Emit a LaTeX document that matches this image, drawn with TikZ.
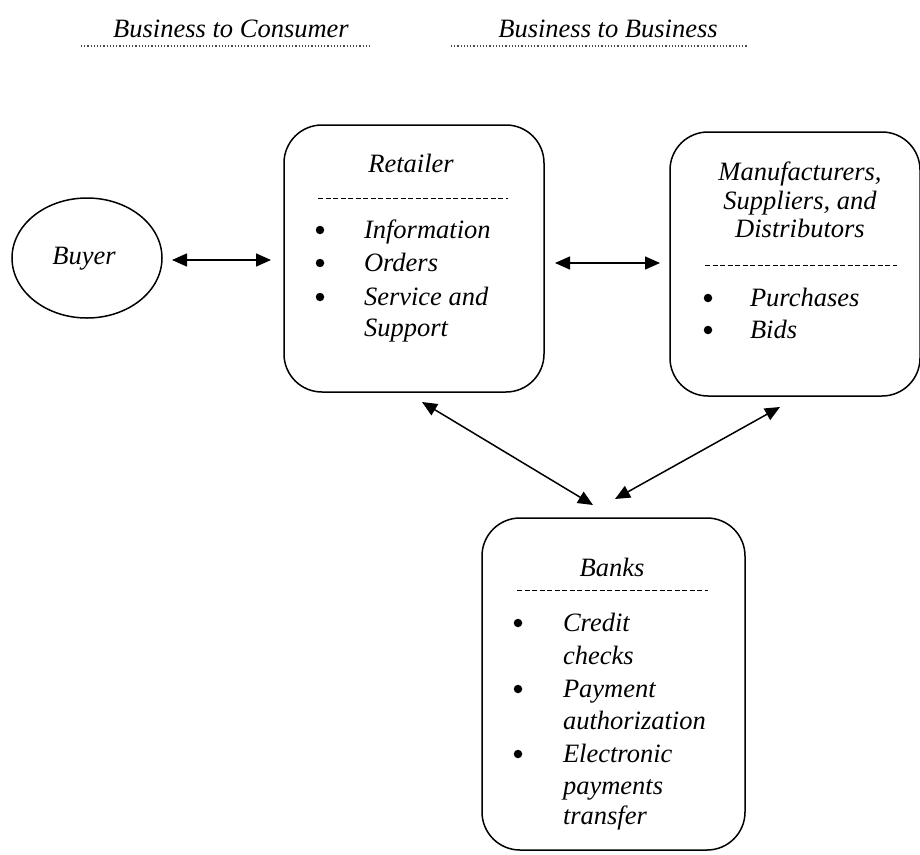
\documentclass[tikz,border=0pt]{standalone}
\usepackage{fontspec}
\setmainfont{Liberation Serif}
\usetikzlibrary{arrows.meta,shapes.geometric}
\begin{document}
\begin{tikzpicture}[x=1pt,y=-1pt,
  every node/.style={font=\fontsize{26.5}{32}\selectfont\itshape, inner sep=0pt, outer sep=0pt},
  box/.style={draw, line width=1.5pt, rounded corners=38pt, rectangle},
  sep/.style={line width=1pt, dash pattern=on 5pt off 2.5pt},
  hdr/.style={line width=1.2pt, dotted, black!70},
  conn/.style={line width=1.5pt, {Triangle[length=15pt,width=13pt]}-{Triangle[length=15pt,width=13pt]}},
  itm/.style={anchor=mid west},
  bul/.style={circle, fill=black, minimum size=8.5pt}]
\useasboundingbox (0,0) rectangle (920,854);

% headers
\node[anchor=mid] (h1) at (231,35) {Business to Consumer};
\node[anchor=mid] (h2) at (608,35) {Business to Business};
\coordinate (h1a) at (81,46); \coordinate (h1b) at (372,46);
\coordinate (h2a) at (451,46); \coordinate (h2b) at (747,46);
\draw[hdr] (h1a) -- (h1b);
\draw[hdr] (h2a) -- (h2b);

% buyer
\node[draw, ellipse, line width=1.5pt, minimum width=150pt, minimum height=120pt] (buyer) at (87,258) {};
\node[anchor=mid] (buyertxt) at (84,262) {Buyer};

% retailer
\node[box, minimum width=260pt, minimum height=267pt] (ret) at (414,258.5) {};
\node[anchor=mid] (rett) at (411,170) {Retailer};
\coordinate (rs1) at (318,198); \coordinate (rs2) at (508,198);
\draw[sep] (rs1) -- (rs2);
\foreach \yy/\t [count=\i] in {230/Information,263/Orders,297/Service and} {
  \node[bul] (rb\i) at (320,\yy) {};
  \node[itm] (ri\i) at (364,\yy+6) {\t};
}
\node[itm] (ri4) at (364,334) {Support};

% manufacturers
\node[box, minimum width=250pt, minimum height=264pt] (man) at (795,264) {};
\node[anchor=mid] (mt1) at (800,178) {Manufacturers,};
\node[anchor=mid] (mt2) at (800,207) {Suppliers, and};
\node[anchor=mid] (mt3) at (800,235) {Distributors};
\coordinate (ms1) at (705,265); \coordinate (ms2) at (897,265);
\draw[sep] (ms1) -- (ms2);
\node[bul] (mb1) at (708,298) {};
\node[itm] (mi1) at (750,304) {Purchases};
\node[bul] (mb2) at (708,330) {};
\node[itm] (mi2) at (750,336) {Bids};

% banks
\node[box, minimum width=263pt, minimum height=332pt] (bank) at (613.5,684) {};
\node[anchor=mid] (bt) at (612,574) {Banks};
\coordinate (bs1) at (517,590); \coordinate (bs2) at (708,590);
\draw[sep] (bs1) -- (bs2);
\node[bul] (bb1) at (518,623) {};
\node[itm] (bi1) at (563,629) {Credit};
\node[itm] (bi2) at (563,662) {checks};
\node[bul] (bb2) at (518,689) {};
\node[itm] (bi3) at (563,695) {Payment};
\node[itm] (bi4) at (563,727) {authorization};
\node[bul] (bb3) at (518,754) {};
\node[itm] (bi5) at (563,760) {Electronic};
\node[itm] (bi6) at (563,792) {payments};
\node[itm] (bi7) at (563,822) {transfer};

% connectors
\coordinate (c1a) at (172,260); \coordinate (c1b) at (271,260);
\coordinate (c2a) at (555,263); \coordinate (c2b) at (660,263);
\coordinate (c3a) at (422,402); \coordinate (c3b) at (593,505);
\coordinate (c4a) at (780,407); \coordinate (c4b) at (615,499);
\draw[conn] (c1a) -- (c1b);
\draw[conn] (c2a) -- (c2b);
\draw[conn] (c3a) -- (c3b);
\draw[conn] (c4a) -- (c4b);
\end{tikzpicture}
\end{document}
